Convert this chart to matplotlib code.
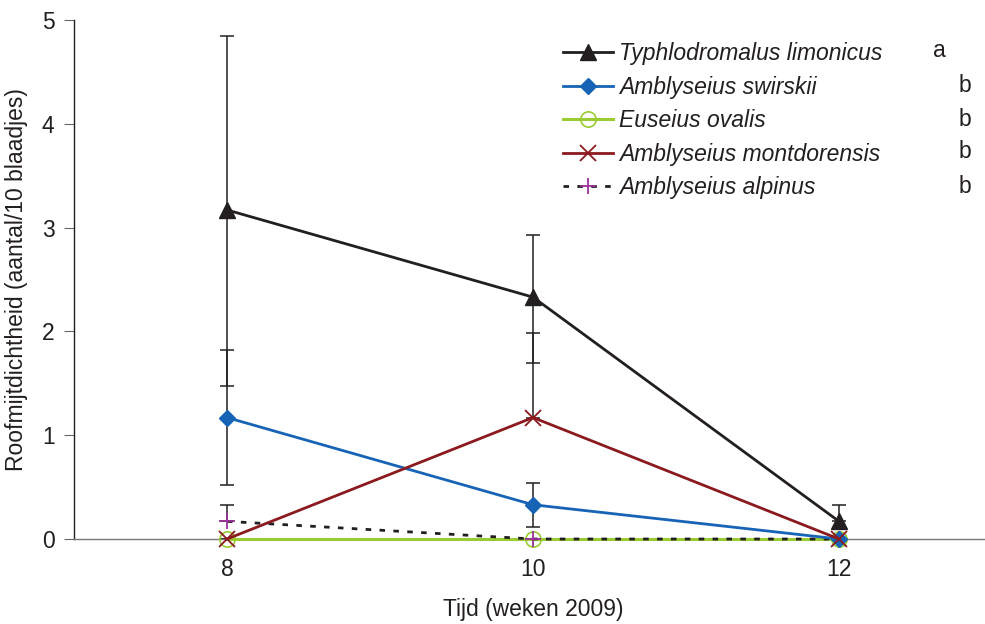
import matplotlib
matplotlib.use("Agg")
import matplotlib.pyplot as plt

plt.rcParams['font.family'] = ['Liberation Sans', 'DejaVu Sans']

weeks = [8, 10, 12]
species = ["Typhlodromalus limonicus", "Amblyseius swirskii", "Euseius ovalis",
           "Amblyseius montdorensis", "Amblyseius alpinus"]
letters = ["a", "b", "b", "b", "b"]
limonicus = [3.17, 2.33, 0.17]
limonicus_err_lo = [1.70, 0.63, 0.0]
limonicus_err_hi = [1.68, 0.60, 0.16]
swirskii = [1.17, 0.33, 0.0]
swirskii_err_lo = [0.65, 0.21, 0.0]
swirskii_err_hi = [0.65, 0.21, 0.0]
ovalis = [0.0, 0.0, 0.0]
montdorensis = [0.0, 1.17, 0.0]
montdorensis_err_lo = [0.0, 0.0, 0.0]
montdorensis_err_hi = [0.0, 0.81, 0.0]
alpinus = [0.17, 0.0, 0.0]
alpinus_err_lo = [0.0, 0.0, 0.0]
alpinus_err_hi = [0.16, 0.0, 0.0]
yticks = [0, 1, 2, 3, 4, 5]
xticks = [8, 10, 12]

FS = 16.5
fig = plt.figure(figsize=(9.85, 6.24), dpi=100)
ax = fig.add_axes([74/985, 85/624, 918/985, 519/624])

ekw = dict(ecolor='#231f20', elinewidth=1.1, capsize=5, capthick=1.1, zorder=2)

def errs(lo, hi):
    return [lo, hi]

for vals, lo, hi in [(limonicus, limonicus_err_lo, limonicus_err_hi),
                     (swirskii, swirskii_err_lo, swirskii_err_hi),
                     (montdorensis, montdorensis_err_lo, montdorensis_err_hi),
                     (alpinus, alpinus_err_lo, alpinus_err_hi)]:
    ax.errorbar(weeks, vals, yerr=errs(lo, hi), fmt='none', **ekw)

h1, = ax.plot(weeks, limonicus, color='#231f20', lw=2, marker='^', ms=11, zorder=5, clip_on=False)
h2, = ax.plot(weeks, swirskii, color='#1763b5', lw=2, marker='D', ms=8, zorder=5, clip_on=False)
h3, = ax.plot(weeks, ovalis, color='#99cc33', lw=2.2, marker='o', ms=11,
              markerfacecolor='none', markeredgecolor='#99cc33', markeredgewidth=1.2,
              zorder=4, clip_on=False)
h4, = ax.plot(weeks, montdorensis, color='#8b1a1f', lw=2, marker='x', ms=12,
              markeredgewidth=1.3, zorder=5, clip_on=False)
h5, = ax.plot(weeks, alpinus, color='#231f20', lw=2, dashes=(2, 3), marker='+', ms=12,
              markeredgecolor='#993399', markeredgewidth=1.3, zorder=4.5, clip_on=False)

ax.set_xlim(7, 13)
ax.set_ylim(0, 5)
ax.set_xticks(xticks)
ax.set_yticks(yticks)
ax.tick_params(axis='both', labelsize=FS, colors='#231f20')
ax.tick_params(axis='x', length=0, pad=14)
ax.tick_params(axis='y', direction='out', length=7, width=0.8, color='#666666', pad=7)
for s in ['top', 'right']:
    ax.spines[s].set_visible(False)
ax.spines['left'].set_color('#231f20')
ax.spines['bottom'].set_color('#777777')
ax.spines['left'].set_linewidth(1.0)
ax.spines['bottom'].set_linewidth(1.0)
ax.set_xlabel("Tijd (weken 2009)", fontsize=FS, labelpad=12, color='#231f20')
ax.set_ylabel("Roofmijtdichtheid (aantal/10 blaadjes)", fontsize=FS, labelpad=10, color='#231f20')

leg = ax.legend([h1, h2, h3, h4, h5], species, loc='upper left',
                bbox_to_anchor=(0.533, 0.957), frameon=False, fontsize=FS,
                handlelength=2.15, handletextpad=0.3, labelspacing=0.46, borderpad=0,
                borderaxespad=0)
for t in leg.get_texts():
    t.set_fontstyle('italic')
    t.set_color('#231f20')

letter_x = [0.943, 0.971, 0.971, 0.971, 0.971]
letter_y = [0.942, 0.873, 0.809, 0.746, 0.680]
for lx, ly, lt in zip(letter_x, letter_y, letters):
    ax.text(lx, ly, lt, transform=ax.transAxes, fontsize=FS, ha='center', va='center',
            color='#231f20')

fig.savefig("out.png", dpi=100)
